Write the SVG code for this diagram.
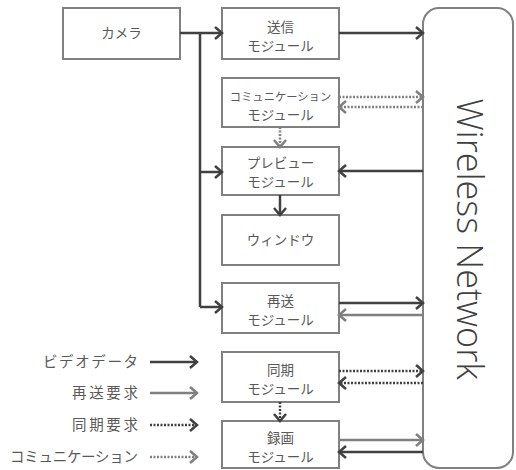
<svg xmlns="http://www.w3.org/2000/svg" width="516" height="470" viewBox="0 0 516 470">
<style>
.box{fill:#fff;stroke:#808080;stroke-width:2}
.t{font-family:"Noto Sans CJK JP",sans-serif;font-size:13.5px;fill:#595959;text-anchor:middle}
.lt{font-family:"Noto Sans CJK JP",sans-serif;font-size:14.5px;fill:#595959;text-anchor:end}
.d{fill:none;stroke:#404040;stroke-width:2.5}
.g{fill:none;stroke:#808080;stroke-width:2.5}
.dd{fill:none;stroke:#404040;stroke-width:2.5;stroke-dasharray:2 1.5}
.gd{fill:none;stroke:#808080;stroke-width:2.5;stroke-dasharray:2 1.5}
</style>
<defs>
<marker id="ad" markerUnits="userSpaceOnUse" markerWidth="16" markerHeight="16" refX="10" refY="8" orient="auto"><path d="M3,2 L10,8 L3,14" fill="none" stroke="#404040" stroke-width="2.5"/></marker>
<marker id="ag" markerUnits="userSpaceOnUse" markerWidth="16" markerHeight="16" refX="10" refY="8" orient="auto"><path d="M3,2 L10,8 L3,14" fill="none" stroke="#808080" stroke-width="2.5"/></marker>
</defs>
<g id="camera"><rect class="box" x="63" y="8" width="117" height="51"/><text class="t" x="121.5" y="38">カメラ</text></g>
<g id="send"><rect class="box" x="222" y="8" width="117" height="51"/><text class="t" x="280.5" y="32">送信</text><text class="t" x="280.5" y="51">モジュール</text></g>
<g id="comm"><rect class="box" x="222" y="78" width="117" height="49"/><text class="t" x="280.5" y="101" style="font-size:11.3px">コミュニケーション</text><text class="t" x="280.5" y="120">モジュール</text></g>
<g id="preview"><rect class="box" x="222" y="147" width="117" height="48"/><text class="t" x="280.5" y="168">プレビュー</text><text class="t" x="280.5" y="187">モジュール</text></g>
<g id="window"><rect class="box" x="222" y="215" width="117" height="50"/><text class="t" x="280.5" y="245">ウィンドウ</text></g>
<g id="resend"><rect class="box" x="222" y="283" width="117" height="50"/><text class="t" x="280.5" y="306">再送</text><text class="t" x="280.5" y="325">モジュール</text></g>
<g id="sync"><rect class="box" x="222" y="352" width="117" height="50"/><text class="t" x="280.5" y="375">同期</text><text class="t" x="280.5" y="394">モジュール</text></g>
<g id="record"><rect class="box" x="222" y="421" width="117" height="47"/><text class="t" x="280.5" y="443">録画</text><text class="t" x="280.5" y="462">モジュール</text></g>
<g id="network"><rect class="box" x="423" y="8" width="90" height="460" rx="16" ry="16"/><text transform="translate(457,239) rotate(90)" style="font-family:'Open Sans','Noto Sans',sans-serif;font-weight:300;font-size:36px;fill:#404040;text-anchor:middle">Wireless Network</text></g>
<g id="connectors">
<path class="d" d="M180,33 H222" marker-end="url(#ad)"/>
<path class="d" d="M200,33 V307"/>
<path class="d" d="M200,172 H222" marker-end="url(#ad)"/>
<path class="d" d="M200,307 H222" marker-end="url(#ad)"/>
<path class="d" d="M339,33 H423" marker-end="url(#ad)"/>
<path class="gd" d="M339,97 H423" marker-end="url(#ag)"/>
<path class="gd" d="M423,107 H339" marker-end="url(#ag)"/>
<path class="gd" d="M280,127 V147" marker-end="url(#ag)"/>
<path class="d" d="M423,171 H339" marker-end="url(#ad)"/>
<path class="d" d="M280,195 V215" marker-end="url(#ad)"/>
<path class="d" d="M339,303 H423" marker-end="url(#ad)"/>
<path class="g" d="M423,315 H339" marker-end="url(#ag)"/>
<path class="dd" d="M339,371 H423" marker-end="url(#ad)"/>
<path class="dd" d="M423,383 H339" marker-end="url(#ad)"/>
<path class="dd" d="M280,402 V421" marker-end="url(#ad)"/>
<path class="g" d="M339,440 H423" marker-end="url(#ag)"/>
<path class="d" d="M423,452 H339" marker-end="url(#ad)"/>
</g>
<g id="legend">
<text class="lt" x="138" y="367" textLength="95" lengthAdjust="spacing">ビデオデータ</text>
<text class="lt" x="138" y="398" textLength="66" lengthAdjust="spacing">再送要求</text>
<text class="lt" x="138" y="430" textLength="66" lengthAdjust="spacing">同期要求</text>
<text class="lt" x="138" y="462" textLength="128" lengthAdjust="spacing">コミュニケーション</text>
<path class="d" d="M150,362 H197" marker-end="url(#ad)"/>
<path class="g" d="M150,393 H197" marker-end="url(#ag)"/>
<path class="dd" d="M150,425 H197" marker-end="url(#ad)"/>
<path class="gd" d="M150,457 H197" marker-end="url(#ag)"/>
</g>
</svg>
